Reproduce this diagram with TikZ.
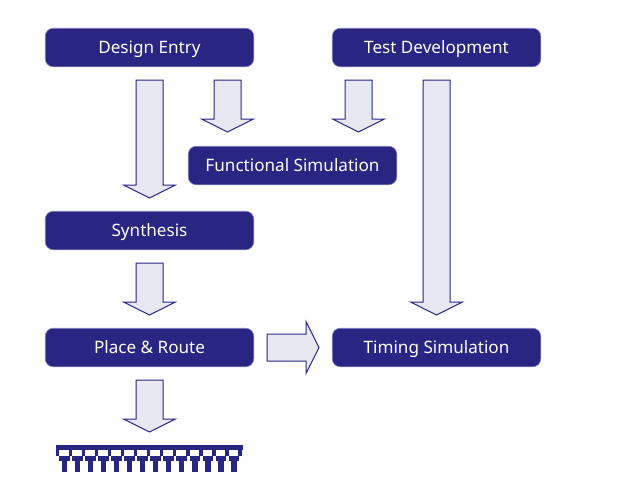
\documentclass[tikz,border=0pt]{standalone}
\usepackage{fontspec}
\setmainfont{Noto Sans}
\definecolor{navy}{RGB}{41,38,131}
\definecolor{pale}{RGB}{231,232,241}
\tikzset{
  x=1pt,y=-1pt,
  flow/.style={fill=navy,draw=navy!60,line width=.6pt,rounded corners=8pt,minimum width=208.5pt,minimum height=38.5pt,text=white,font=\fontsize{17.1}{20}\selectfont,inner sep=0pt,text height=14pt,text depth=3pt},
  bigarrow/.style={fill=pale,draw=navy,line width=1pt,line join=miter},
}
\newcommand{\downarrowshape}[3]{% centre x, top y, tip y
  \draw[bigarrow] (#1-13.5,#2) -- (#1+13.5,#2) -- (#1+13.5,#3-13) -- (#1+26,#3-13) -- (#1,#3) -- (#1-26,#3-13) -- (#1-13.5,#3-13) -- cycle;}
\begin{document}
\begin{tikzpicture}
\useasboundingbox (0,0) rectangle (621,488);
\node[flow] (de) at (149.5,47.5) {Design Entry};
\node[flow] (td) at (436.5,47.5) {Test Development};
\node[flow] (fs) at (292.5,165.5) {Functional Simulation};
\node[flow] (sy) at (149.5,230.5) {Synthesis};
\node[flow] (pr) at (149.5,347.5) {Place \& Route};
\node[flow] (ts) at (436.5,347.5) {Timing Simulation};
\downarrowshape{149.5}{80}{198}
\downarrowshape{227.5}{80}{132}
\downarrowshape{358.5}{80}{132}
\downarrowshape{436.5}{80}{315}
\downarrowshape{149.5}{263}{315}
\downarrowshape{149.5}{380}{432}
\draw[bigarrow] (267,334) -- (306,334) -- (306,321.5) -- (319,347.5) -- (306,373.5) -- (306,361) -- (267,361) -- cycle;
\fill[navy] (55.5,445) rectangle (243,450);
\foreach \i in {0,...,14}{
  \fill[navy] ({57.4+\i*13.02-1.9},450) rectangle ({57.4+\i*13.02+1.9},456);
}
\foreach \i in {0,...,13}{
  \fill[navy] ({64.4+\i*13.02-5.1},455.7) rectangle ({64.4+\i*13.02+5.1},460.7);
  \fill[navy] ({64.4+\i*13.02-2.9},460.7) rectangle ({64.4+\i*13.02+2.9},471.7);
}
\end{tikzpicture}
\end{document}
